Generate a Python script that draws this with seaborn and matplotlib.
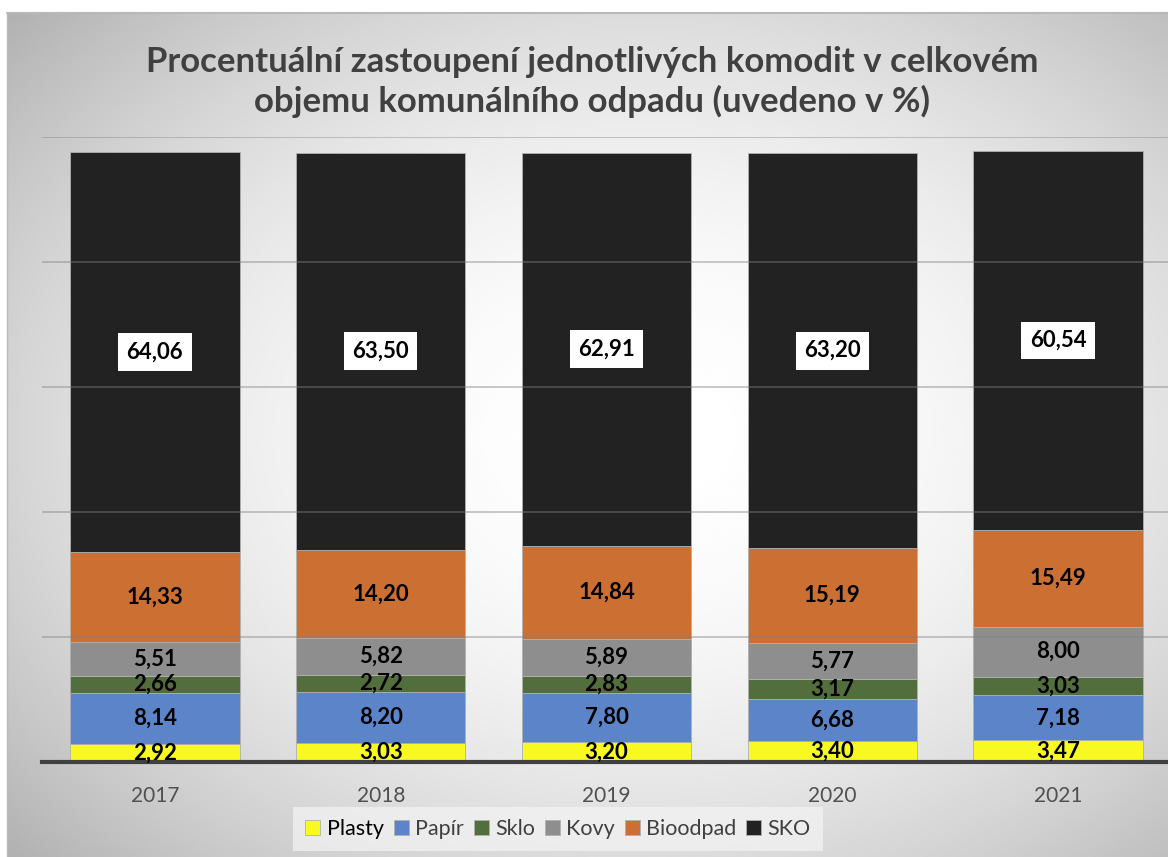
import numpy as np
import pandas as pd
import matplotlib
matplotlib.use("Agg")
import matplotlib.pyplot as plt
import seaborn as sns

# Data (values in %)
years = ["2017", "2018", "2019", "2020", "2021"]
plasty = [2.92, 3.03, 3.20, 3.40, 3.47]
papir = [8.14, 8.20, 7.80, 6.68, 7.18]
sklo = [2.66, 2.72, 2.83, 3.17, 3.03]
kovy = [5.51, 5.82, 5.89, 5.77, 8.00]
bioodpad = [14.33, 14.20, 14.84, 15.19, 15.49]
sko = [64.06, 63.50, 62.91, 63.20, 60.54]

series_names = ["Plasty", "Papír", "Sklo", "Kovy", "Bioodpad", "SKO"]
series_values = [plasty, papir, sklo, kovy, bioodpad, sko]
colors = ["#f9f922", "#5b84c9", "#536e3d", "#8e8e8e", "#cc6f33", "#222222"]

title = ("Procentuální zastoupení jednotlivých komodit v celkovém\n"
         "objemu komunálního odpadu (uvedeno v %)")

sns.set_style("white")
plt.rcParams["font.family"] = ["Lato", "DejaVu Sans"]

W, H = 1168, 857
fig = plt.figure(figsize=(W / 100, H / 100), dpi=100)
fig.patch.set_facecolor("white")

# radial grey gradient background of the chart area
bg = fig.add_axes([7 / W, 0, 1 - 7 / W, 1 - 13 / H])
bg.set_axis_off()
yy, xx = np.mgrid[0:1:300j, 0:1:400j]
r2 = ((xx - 0.55) / 0.6) ** 2 + ((yy - 0.5) / 0.6) ** 2
grad = np.clip(1 - 0.2 * r2, 0, 1)
bg.imshow(grad, cmap="gray", vmin=0, vmax=1, aspect="auto",
          extent=[0, 1, 0, 1], interpolation="bicubic")
bg.plot([0, 1], [1, 1], color="#b8b8b8", lw=1.5, transform=bg.transAxes, clip_on=False)
bg.plot([0, 0], [0, 1], color="#b8b8b8", lw=1.0, transform=bg.transAxes, clip_on=False)

ax = fig.add_axes([42 / W, 1 - 762 / H, 1129 / W, 625 / H])
ax.patch.set_alpha(0)

df = pd.DataFrame({"year": years})
bottom = np.zeros(len(years))
for name, vals, col in zip(series_names, series_values, colors):
    sns.barplot(x=df["year"], y=vals, bottom=bottom, color=col, width=0.75,
                errorbar=None, ax=ax, label=name, edgecolor="#b0b0b0",
                linewidth=0.6, saturation=1, zorder=2)
    labels = [f"{v:.2f}".replace(".", ",") for v in vals]
    kw = {}
    if name == "SKO":
        kw["bbox"] = dict(facecolor="white", edgecolor="none", pad=6)
    txts = ax.bar_label(ax.containers[-1], labels=labels, label_type="center",
                        fontsize=16, fontweight="bold", color="black", **kw)
    for t in txts:
        t.set_zorder(6)
    bottom = bottom + np.array(vals)

ax.set_ylim(0, 100)
ax.set_xlim(-0.5, 4.5)
ax.set_yticks([0, 20, 40, 60, 80, 100])
ax.set_yticklabels([])
ax.yaxis.grid(True, color="#808080", alpha=0.45, lw=1.3, zorder=4)
ax.set_axisbelow(False)
for s in ["top", "right", "left"]:
    ax.spines[s].set_visible(False)
ax.spines["bottom"].set_color("#404040")
ax.spines["bottom"].set_linewidth(3)
ax.spines["bottom"].set_zorder(5)
ax.tick_params(axis="x", length=0, pad=17, labelsize=15, labelcolor="#505050")
ax.tick_params(axis="y", length=0)
ax.set_xlabel("")
ax.set_ylabel("")

handles, lbls = ax.get_legend_handles_labels()
if ax.get_legend() is not None:
    ax.get_legend().remove()
leg = fig.legend(handles, lbls, loc="center", ncol=6,
                 bbox_to_anchor=(558 / W, 1 - 829 / H), frameon=True,
                 fontsize=15.5, handlelength=0.7, handleheight=0.7,
                 handletextpad=0.3, columnspacing=0.45, borderpad=0.55,
                 fancybox=False)
leg.get_frame().set_facecolor("#f4f4f4")
leg.get_frame().set_alpha(0.7)
leg.get_frame().set_edgecolor("none")
for t in leg.get_texts():
    t.set_color("#404040")
leg.get_texts()[0].set_color("black")

fig.text(592 / W, 1 - 82 / H, title, ha="center", va="center", fontsize=25,
         fontweight="bold", color="#404040", linespacing=1.25)

fig.savefig("out.png", dpi=100)
